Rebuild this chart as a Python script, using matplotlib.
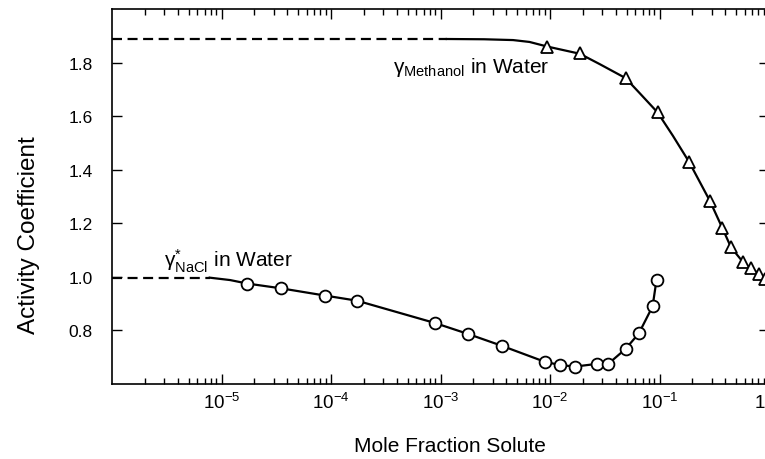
import numpy as np
import matplotlib
matplotlib.use('Agg')
import matplotlib.pyplot as plt
from matplotlib.ticker import LogLocator, NullFormatter, FormatStrFormatter

plt.rcParams['font.family'] = ['Liberation Sans', 'DejaVu Sans']
plt.rcParams['mathtext.fontset'] = 'custom'
plt.rcParams['mathtext.rm'] = 'Liberation Sans'
plt.rcParams['mathtext.it'] = 'Liberation Sans:italic'
plt.rcParams['mathtext.bf'] = 'Liberation Sans:bold'
plt.rcParams['axes.unicode_minus'] = False

# methanol in water (triangles)
meoh_x = [0.0094, 0.0187, 0.049, 0.096, 0.187, 0.289, 0.376, 0.45, 0.582, 0.684, 0.811, 0.918]
meoh_y = [1.859, 1.834, 1.742, 1.614, 1.428, 1.283, 1.181, 1.110, 1.054, 1.032, 1.012, 0.992]
# solid fitted curve
meoh_fit_x = [1.14e-3, 2.5e-3, 4.6e-3, 6.5e-3, 0.0094, 0.0187, 0.0285, 0.049, 0.0662,
              0.096, 0.1324, 0.187, 0.289, 0.376, 0.45, 0.582, 0.684, 0.811, 0.918, 1.0]
meoh_fit_y = [1.888, 1.887, 1.884, 1.877, 1.860, 1.833, 1.794, 1.742, 1.685,
              1.614, 1.527, 1.428, 1.283, 1.181, 1.110, 1.054, 1.032, 1.012, 0.996, 0.99]
# dashed infinite-dilution limit
meoh_limit_x = [1e-6, 1.14e-3]
meoh_limit_y = [1.888, 1.888]

# NaCl in water (circles)
nacl_x = [1.72e-5, 3.52e-5, 8.87e-5, 1.73e-4, 8.85e-4, 1.78e-3, 3.61e-3, 8.95e-3,
          0.0123, 0.0169, 0.0266, 0.034, 0.049, 0.0648, 0.0865, 0.094]
nacl_y = [0.975, 0.957, 0.930, 0.911, 0.828, 0.787, 0.743, 0.683,
          0.671, 0.665, 0.675, 0.675, 0.731, 0.789, 0.890, 0.990]
nacl_fit_x = [7.8e-6, 1.2e-5] + nacl_x
nacl_fit_y = [0.997, 0.988] + nacl_y
nacl_limit_x = [1e-6, 7.8e-6]
nacl_limit_y = [0.997, 0.997]

xticks = [1e-5, 1e-4, 1e-3, 1e-2, 1e-1, 1e0]
yticks = [0.8, 1.0, 1.2, 1.4, 1.6, 1.8]

fig = plt.figure(figsize=(7.65, 4.6), dpi=100)
ax = fig.add_axes([112/765, 75/460, 657/765, 375/460])

ax.plot(meoh_limit_x, meoh_limit_y, color='black', lw=1.6, dashes=(4.5, 2.5))
ax.plot(nacl_limit_x, nacl_limit_y, color='black', lw=1.6, dashes=(4.5, 2.5))
ax.plot(meoh_fit_x, meoh_fit_y, color='black', lw=1.6, solid_joinstyle='round')
ax.plot(nacl_fit_x, nacl_fit_y, color='black', lw=1.6, solid_joinstyle='round')
ax.plot(meoh_x, meoh_y, ls='none', marker='^', ms=8.5, mfc='white', mec='black', mew=1.3)
ax.plot(nacl_x, nacl_y, ls='none', marker='o', ms=8.5, mfc='white', mec='black', mew=1.3)

ax.text(3.66e-4, 1.765, r'$\mathrm{\gamma}_{\mathrm{Methanol}}$ in Water', fontsize=15, va='baseline')
ax.text(3.0e-6, 1.04, r'$\mathrm{\gamma}^{*}_{\mathrm{NaCl}}$ in Water', fontsize=15, va='baseline')

ax.set_xscale('log')
ax.set_xlim(1e-6, 1)
ax.set_ylim(0.6, 2.0)
ax.set_xticks(xticks)
ax.xaxis.set_minor_locator(LogLocator(base=10, subs=np.arange(2, 10), numticks=20))
ax.xaxis.set_minor_formatter(NullFormatter())
ax.set_yticks(yticks)
ax.yaxis.set_major_formatter(FormatStrFormatter('%.1f'))

ax.tick_params(which='both', direction='in', top=True, right=True, width=1)
ax.tick_params(which='major', length=7)
ax.tick_params(which='minor', length=4)
ax.tick_params(axis='x', labelsize=13.5, pad=6)
ax.tick_params(axis='y', labelsize=12.5, pad=14)
for s in ax.spines.values():
    s.set_linewidth(1.2)

ax.set_xlabel('Mole Fraction Solute', fontsize=15)
ax.set_ylabel('Activity Coefficient', fontsize=17.5)
ax.xaxis.set_label_coords(0.514, -0.139)
ax.yaxis.set_label_coords(-0.110, 0.4)

fig.savefig('out.png', dpi=100)
